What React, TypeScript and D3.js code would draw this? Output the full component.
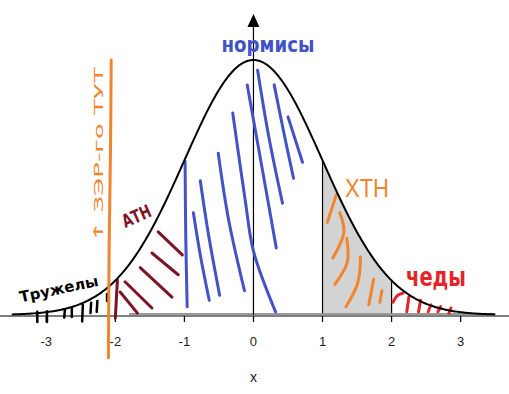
import React from "react";
import * as d3 from "d3";

const W = 509;
const H = 394;

// x-axis ticks (standard deviations)
const xTicks = [-3, -2, -1, 0, 1, 2, 3];
const xDomain = [-3.67, 3.7];
const curveRange = [-3.5, 3.5];
const shadeRange = [1, 2];

// hand-drawn annotation strokes, in data units [x (sd), density]
const blueStrokes: [number, number][][] = [
  [[-0.99, 0.24], [-0.98, 0.12], [-0.96, 0.013]],
  [[-0.87, 0.16], [-0.77, 0.094], [-0.64, 0.023]],
  [[-0.77, 0.21], [-0.65, 0.125], [-0.49, 0.031]],
  [[-0.51, 0.253], [-0.36, 0.149], [-0.13, 0.038]],
  [[-0.3, 0.316], [-0.12, 0.18], [0.0, 0.1], [0.32, 0.005]],
  [[-0.09, 0.36], [0.13, 0.227], [0.33, 0.105]],
  [[0.06, 0.383], [0.22, 0.28], [0.42, 0.175]],
  [[0.3, 0.36], [0.45, 0.28], [0.58, 0.214]],
  [[0.5, 0.31], [0.71, 0.239]],
];

const maroonStrokes: [number, number][][] = [
  [[-1.97, 0.055], [-2.0, -0.005]],
  [[-1.93, 0.036], [-1.68, 0.003]],
  [[-1.86, 0.052], [-1.47, 0.011]],
  [[-1.64, 0.074], [-1.18, 0.028]],
  [[-1.47, 0.097], [-1.09, 0.063]],
  [[-1.38, 0.13], [-1.03, 0.094]],
];

const blackStrokes: [number, number][][] = [
  [[-3.13, 0.005], [-3.13, -0.011]],
  [[-2.99, 0.006], [-2.99, -0.011]],
  [[-2.73, 0.009], [-2.74, -0.004]],
  [[-2.63, 0.011], [-2.63, -0.003]],
  [[-2.47, 0.016], [-2.48, -0.01]],
  [[-2.35, 0.019], [-2.36, 0.003]],
  [[-2.26, 0.022], [-2.27, 0.005]],
  [[-2.12, 0.033], [-2.12, 0.022]],
];

const orangeStrokes: [number, number][][] = [
  [[1.2, 0.188], [1.07, 0.145]],
  [[1.25, 0.16], [1.31, 0.13], [1.15, 0.089]],
  [[1.35, 0.12], [1.36, 0.083], [1.18, 0.048]],
  [[1.55, 0.091], [1.51, 0.05], [1.34, 0.013]],
  [[1.74, 0.056], [1.67, 0.016]],
  [[1.86, 0.038], [1.83, 0.02]],
];

const redStrokes: [number, number][][] = [
  [[2.02, 0.02], [2.08, 0.03], [2.16, 0.034]],
  [[2.25, 0.028], [2.22, 0.005]],
  [[2.42, 0.023], [2.39, 0.005]],
  [[2.57, 0.016], [2.53, 0.005]],
  [[2.71, 0.013], [2.67, 0.005]],
  [[2.86, 0.011], [2.83, 0.003]],
];

const orangeLine: [number, number][] = [
  [-2.06, 0.399], [-2.07, 0.259], [-2.09, 0.102], [-2.1, -0.067],
];

const labels = {
  normies: "нормисы",
  htn: "ХТН",
  chads: "чеды",
  atn: "АТН",
  tru: "Тружелы",
  here: "↑ ЗЭР-го ТУТ",
  xTitle: "x",
};

const pdf = (x: number) => Math.exp(-0.5 * x * x) / Math.sqrt(2 * Math.PI);

export default function App() {
  const x = d3.scaleLinear().domain(xDomain).range([0, W]);
  const y = d3.scaleLinear().domain([0, pdf(0)]).range([315, 60]);

  const curvePts = d3.range(curveRange[0], curveRange[1] + 0.0001, 0.02).map((v) => [v, pdf(v)] as [number, number]);
  const line = d3.line<[number, number]>().x((d) => x(d[0])).y((d) => y(d[1]));
  const hand = d3
    .line<[number, number]>()
    .x((d) => x(d[0]))
    .y((d) => y(d[1]))
    .curve(d3.curveCatmullRom);
  const shadePts = d3.range(shadeRange[0], shadeRange[1] + 0.0001, 0.02).map((v) => [v, pdf(v)] as [number, number]);
  const area = d3
    .area<[number, number]>()
    .x((d) => x(d[0]))
    .y0(y(0))
    .y1((d) => y(d[1]));

  const font = "'Liberation Sans', Arial, sans-serif";
  const hfont = "'DejaVu Sans', sans-serif";
  const x0 = x(0);

  const strokes = (arr: [number, number][][], color: string, w: number) =>
    arr.map((s, i) => (
      <path key={color + i} d={hand(s) || ""} fill="none" stroke={color} strokeWidth={w} strokeLinecap="round" strokeLinejoin="round" />
    ));

  return (
    <svg width={W} height={H} style={{ position: "absolute", left: 0, top: 0, background: "#fff" }}>
      {/* shaded area */}
      <path d={area(shadePts) || ""} fill="#d3d3d3" />
      <line x1={x(shadeRange[0])} x2={x(shadeRange[0])} y1={y(0)} y2={y(pdf(shadeRange[0]))} stroke="#000" strokeWidth={1.2} />
      <line x1={x(shadeRange[1])} x2={x(shadeRange[1])} y1={y(0)} y2={y(pdf(shadeRange[1]))} stroke="#000" strokeWidth={1.2} />
      {/* grey baseline */}
      <line x1={x(-1.8)} x2={x(curveRange[1])} y1={y(0) - 1} y2={y(0) - 1} stroke="#999" strokeWidth={2} />
      {/* x axis */}
      <line x1={0} x2={W} y1={y(0) + 1} y2={y(0) + 1} stroke="#000" strokeWidth={1.2} />
      {xTicks.map((t) => (
        <g key={t}>
          <line x1={x(t)} x2={x(t)} y1={y(0) + 1} y2={y(0) + 7} stroke="#000" strokeWidth={1.2} />
          <text x={x(t)} y={346} textAnchor="middle" fontFamily={font} fontSize={13} fill="#222">
            {t}
          </text>
        </g>
      ))}
      <text x={x0} y={382} textAnchor="middle" fontFamily={font} fontSize={14} fill="#222">
        {labels.xTitle}
      </text>
      {/* y axis with arrow */}
      <line x1={x0} x2={x0} y1={24} y2={y(0)} stroke="#000" strokeWidth={1.2} />
      <path d={`M${x0 - 6},27 L${x0 + 6},27 L${x0},14 Z`} fill="#000" />

      {/* annotations */}
      {strokes(blueStrokes, "#4352c6", 3)}
      {strokes(maroonStrokes, "#7d1426", 3)}
      {strokes(blackStrokes, "#000", 2.5)}
      {strokes(orangeStrokes, "#f0852d", 3)}
      {strokes(redStrokes, "#e3242b", 3)}

      {/* density curve */}
      <path d={line(curvePts) || ""} fill="none" stroke="#000" strokeWidth={2} />

      <path d={hand(orangeLine) || ""} fill="none" stroke="#f0852d" strokeWidth={3} strokeLinecap="round" />

      <text x={268} y={52} textAnchor="middle" fontFamily={hfont} fontWeight="bold" fontSize={22} fill="#4352c6" textLength={93} lengthAdjust="spacingAndGlyphs">
        {labels.normies}
      </text>
      <text x={345} y={197} fontFamily={font} fontSize={26} fill="#f0852d" textLength={44} lengthAdjust="spacingAndGlyphs">
        {labels.htn}
      </text>
      <text x={406} y={286} fontFamily={hfont} fontWeight="bold" fontSize={26} fill="#e3242b" textLength={60} lengthAdjust="spacingAndGlyphs">
        {labels.chads}
      </text>
      <text transform="translate(139,222) rotate(-24)" textAnchor="middle" fontFamily={hfont} fontWeight="bold" fontSize={18} fill="#7d1426" textLength={30} lengthAdjust="spacingAndGlyphs">
        {labels.atn}
      </text>
      <text transform="translate(60,294) rotate(-12)" textAnchor="middle" fontFamily={hfont} fontWeight="bold" fontSize={15} fill="#000" textLength={80} lengthAdjust="spacingAndGlyphs">
        {labels.tru}
      </text>
      <text transform="translate(103,155) rotate(-90)" textAnchor="middle" fontFamily={hfont} fontSize={13} fill="#f0852d" textLength={175} lengthAdjust="spacingAndGlyphs">
        {labels.here}
      </text>
    </svg>
  );
}
